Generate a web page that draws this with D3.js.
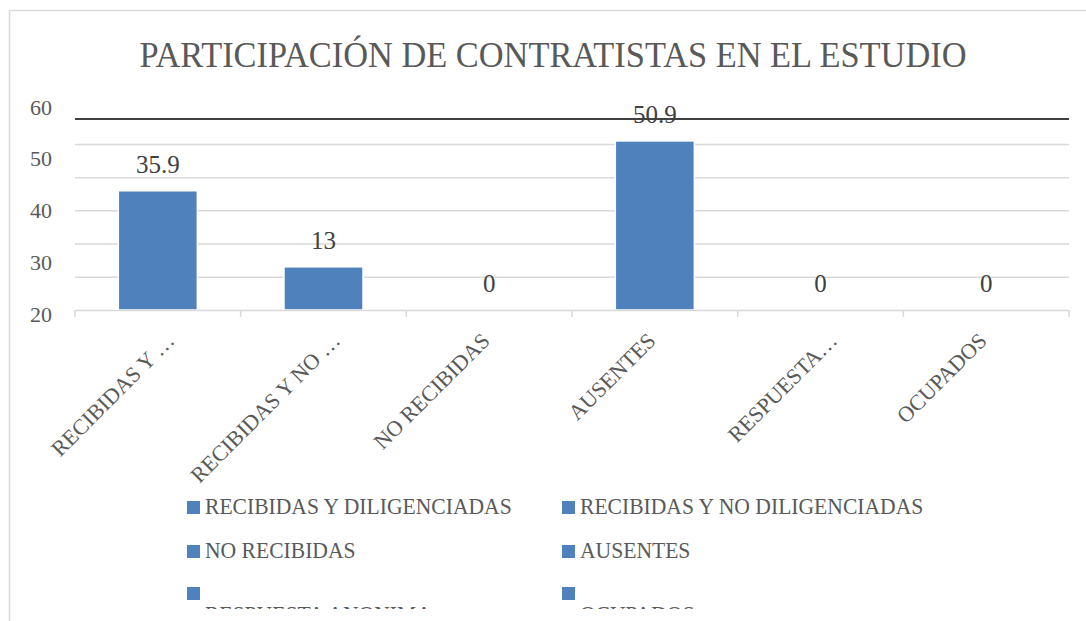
<!DOCTYPE html>
<html lang="es">
<head>
<meta charset="utf-8">
<script src="https://cdn.jsdelivr.net/npm/d3@7"></script>
<title>Participación de contratistas</title>
<style>
body{
margin:0;
background:#ffffff;
}
svg{
display:block;
}
</style>
</head>
<body>
<svg width="1086" height="621"></svg>

<script>
// data
var categories = ["RECIBIDAS Y DILIGENCIADAS", "RECIBIDAS Y NO DILIGENCIADAS", "NO RECIBIDAS", "AUSENTES", "RESPUESTA ANONIMA", "OCUPADOS"];
var axisLabels = ["RECIBIDAS Y …", "RECIBIDAS Y NO …", "NO RECIBIDAS", "AUSENTES", "RESPUESTA…", "OCUPADOS"];
var values = [35.9, 13, 0, 50.9, 0, 0];
var yTickLabels = [20, 30, 40, 50, 60];
var gridValues = [10, 20, 30, 40, 50];
var yMax = 57.5;

var fontName = "Liberation Serif";
var textColor = "#595959";
var barColor = "#4F81BD";
var plotLeft = 75, plotRight = 1069, plotTop = 119, plotBottom = 310;

var svg = d3.select("svg");

var x = d3.scaleBand().domain(categories).range([plotLeft, plotRight])
  .paddingInner(0.523).paddingOuter(0.2615);
var xEdge = d3.scaleBand().domain(categories).range([plotLeft, plotRight]);
var y = d3.scaleLinear().domain([0, yMax]).range([plotBottom, plotTop]);
var yLab = d3.scaleLinear().domain([20, 60]).range([314, 107]);

// chart frame
svg.append("line").attr("x1",9).attr("x2",1086).attr("y1",10.5).attr("y2",10.5)
.attr("stroke","#D9D9D9").attr("stroke-width",1.5);
svg.append("line").attr("x1",9.5).attr("x2",9.5).attr("y1",10).attr("y2",621)
.attr("stroke","#D9D9D9").attr("stroke-width",1.5);

// title
svg.append("text")
.attr("x",553).attr("y",67)
.attr("text-anchor","middle")
.attr("font-family",fontName)
.attr("font-size",36)
.attr("fill",textColor)
.attr("textLength",827)
.attr("lengthAdjust","spacingAndGlyphs")
.text("PARTICIPACIÓN DE CONTRATISTAS EN EL ESTUDIO");

// gridlines
svg.append("g")
.attr("transform","translate(" + plotLeft + ",0)")
.call(d3.axisLeft(y).tickValues(gridValues).tickSize(-(plotRight - plotLeft)).tickFormat(""))
.call(function(g){
  g.select(".domain").remove();
  g.selectAll("line").attr("stroke","#D9D9D9").attr("stroke-width",1.5);
});

// top line
svg.append("line")
.attr("x1",plotLeft).attr("x2",plotRight)
.attr("y1",y(yMax)).attr("y2",y(yMax))
.attr("stroke","#404040").attr("stroke-width",2);

// y labels
svg.append("g")
.attr("transform","translate(52,0)")
.call(d3.axisLeft(yLab).tickValues(yTickLabels).tickSize(0).tickPadding(0))
.call(function(g){
  g.select(".domain").remove();
  g.selectAll("text")
  .attr("font-family",fontName)
  .attr("font-size",22)
  .attr("fill",textColor);
});

// bars
svg.selectAll("rect.bar")
.data(values).enter()
.append("rect")
.attr("class","bar")
.attr("x",function(d,i){return x(categories[i])})
.attr("width",x.bandwidth())
.attr("y",function(d){return y(d)})
.attr("height",function(d){return y(0) - y(d)})
.attr("fill",barColor)
.attr("stroke","#ffffff")
.attr("stroke-width",1.5);

// x axis line and ticks
svg.append("line")
.attr("x1",plotLeft).attr("x2",plotRight)
.attr("y1",plotBottom + 0.5).attr("y2",plotBottom + 0.5)
.attr("stroke","#D9D9D9").attr("stroke-width",1.5);

svg.selectAll("line.tick")
.data(categories.concat(["end"])).enter()
.append("line")
.attr("class","tick")
.attr("x1",function(d){return d == "end" ? plotRight : xEdge(d)})
.attr("x2",function(d){return d == "end" ? plotRight : xEdge(d)})
.attr("y1",plotBottom).attr("y2",plotBottom + 7)
.attr("stroke","#D9D9D9").attr("stroke-width",1.5);

// value labels
svg.selectAll("text.val")
.data(values).enter()
.append("text")
.attr("class","val")
.attr("x",function(d,i){return x(categories[i]) + x.bandwidth()/2})
.attr("y",function(d){return y(d) - 18})
.attr("text-anchor","middle")
.attr("font-family",fontName)
.attr("font-size",25)
.attr("fill","#404040")
.text(function(d){return d});

// category labels (truncated ones sit a bit further right, as in Excel)
svg.selectAll("text.cat")
.data(axisLabels).enter()
.append("text")
.attr("class","cat")
.attr("text-anchor","end")
.attr("transform",function(d,i){
  var shift = d.slice(-1) == "…" ? 18 : 2;
  return "translate(" + (x(categories[i]) + x.bandwidth()/2 + shift) + ",342) rotate(-45)";
})
.attr("font-family",fontName)
.attr("font-size",22)
.attr("fill",textColor)
.text(function(d){return d});

// legend
svg.append("clipPath").attr("id","legclip")
.append("rect").attr("x",0).attr("y",470).attr("width",1086).attr("height",139);

var leg = svg.append("g").attr("clip-path","url(#legclip)");
var colX = [187, 562];
var rowY = [501, 545, 587];

var item = leg.selectAll("g.item")
.data(categories).enter()
.append("g")
.attr("class","item")
.attr("transform",function(d,i){return "translate(" + colX[i % 2] + "," + rowY[Math.floor(i / 2)] + ")"});

item.append("rect")
.attr("width",13).attr("height",13)
.attr("fill",barColor);

item.append("text")
.attr("transform",function(d,i){
  return i < 4 ? "translate(18,13) scale(0.96,1)" : "translate(18,35) scale(0.96,1)";
})
.attr("font-family",fontName)
.attr("font-size",22.5)
.attr("fill",textColor)
.text(function(d){return d});
</script>
</body>
</html>
